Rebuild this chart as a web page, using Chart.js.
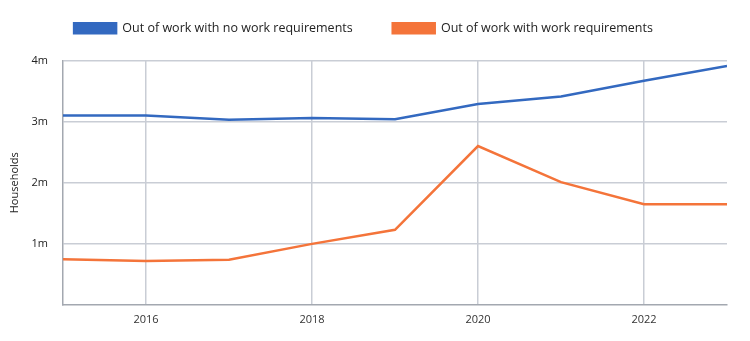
<!DOCTYPE html>
<html lang="en">
  <head>
    <meta charset="utf-8" />
    <title>Households out of work</title>
    <script src="https://cdn.jsdelivr.net/npm/chart.js"></script>
    <style>
      html,
      body {
        margin: 0;
        padding: 0;
        background: #ffffff;
      }
      #wrap {
        width: 750px;
        height: 341px;
      }
    </style>
  </head>
  <body>
    <div id="wrap">
      <canvas id="myChart"></canvas>
    </div>
    <script>
      // households, in millions
      const years = [2015, 2016, 2017, 2018, 2019, 2020, 2021, 2022, 2023];
      const noWorkReq = [3.1, 3.1, 3.03, 3.06, 3.04, 3.29, 3.41, 3.67, 3.91];
      const withWorkReq = [0.75, 0.72, 0.74, 1.0, 1.23, 2.6, 2.01, 1.65, 1.65];
      const xTicks = [2016, 2018, 2020, 2022];
      const yTicks = [1, 2, 3, 4];

      const blue = '#3369c0';
      const orange = '#f4743a';
      const gridColor = '#c9cdd5';
      const fontFamily = "'Open Sans', 'Liberation Sans', sans-serif";

      function toPoints(vals) {
        return years.map((y, i) => ({ x: y, y: vals[i] }));
      }

      // empty box between the legend and the plot, gives it some air
      const legendGap = {
        id: 'legendGap',
        beforeInit(chart) {
          Chart.layouts.addBox(chart, {
            position: 'top',
            weight: 0,
            fullSize: true,
            options: {},
            isHorizontal() {
              return true;
            },
            update(maxWidth) {
              this.width = maxWidth;
              this.height = 16;
            },
            draw() {},
          });
        },
      };

      const data = {
        datasets: [
          {
            label: 'Out of work with no work requirements',
            data: toPoints(noWorkReq),
            borderColor: blue,
            backgroundColor: blue,
            borderWidth: 2.5,
            pointRadius: 0,
            tension: 0,
          },
          {
            label: 'Out of work with work requirements',
            data: toPoints(withWorkReq),
            borderColor: orange,
            backgroundColor: orange,
            borderWidth: 2.5,
            pointRadius: 0,
            tension: 0,
          },
        ],
      };

      const config = {
        type: 'line',
        data: data,
        plugins: [legendGap],
        options: {
          responsive: true,
          maintainAspectRatio: false,
          animation: false,
          layout: {
            padding: { left: 0, right: 23, top: -18, bottom: 0 },
          },
          plugins: {
            tooltip: { enabled: false },
            legend: {
              position: 'top',
              labels: {
                boxWidth: 42,
                boxHeight: 10,
                padding: 40,
                color: '#222222',
                font: { family: fontFamily, size: 12.5 },
              },
            },
          },
          scales: {
            x: {
              type: 'linear',
              min: 2015,
              max: 2023,
              afterBuildTicks: (axis) => {
                axis.ticks = xTicks.map((v) => ({ value: v }));
              },
              afterFit: (axis) => {
                axis.height = 36;
              },
              grid: {
                color: gridColor,
                lineWidth: 1.5,
                drawTicks: false,
              },
              border: { color: '#a3a8b0', width: 1.5 },
              ticks: {
                padding: 8,
                color: '#333333',
                font: { family: fontFamily, size: 11 },
                callback: (v) => String(v),
              },
            },
            y: {
              min: 0,
              max: 4,
              afterBuildTicks: (axis) => {
                axis.ticks = yTicks.map((v) => ({ value: v }));
              },
              afterFit: (axis) => {
                axis.width = 63;
              },
              grid: {
                color: gridColor,
                lineWidth: 1.5,
                drawTicks: false,
              },
              border: { color: '#a3a8b0', width: 1.5 },
              title: {
                display: true,
                text: 'Households',
                color: '#222222',
                padding: { top: 8, bottom: 4 },
                font: { family: fontFamily, size: 11 },
              },
              ticks: {
                padding: 15,
                color: '#222222',
                font: { family: fontFamily, size: 11 },
                callback: (v) => v + 'm',
              },
            },
          },
        },
      };

      var myChart = new Chart(document.getElementById('myChart'), config);
    </script>
  </body>
</html>
